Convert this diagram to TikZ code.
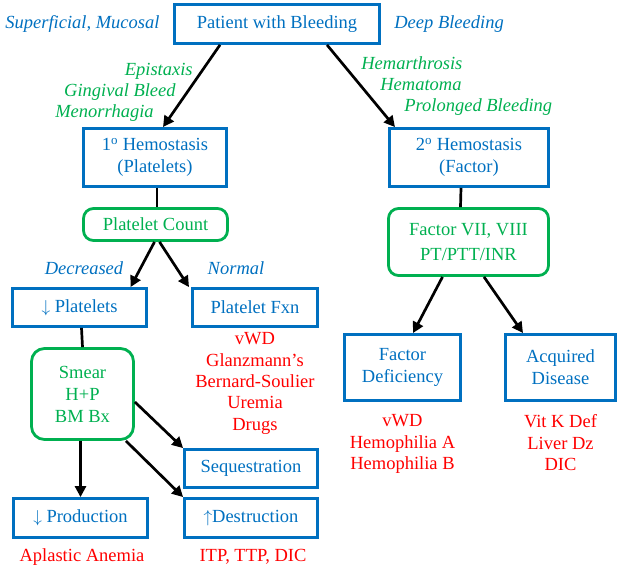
\documentclass[tikz,border=0pt]{standalone}
\usepackage{fontspec}
\setmainfont{Liberation Serif}
\usetikzlibrary{arrows.meta,positioning}

\definecolor{dxblue}{RGB}{0,112,192}
\definecolor{dxgreen}{RGB}{0,176,80}
\definecolor{dxred}{RGB}{255,0,0}

\begin{document}
\begin{tikzpicture}[
    x = 1pt, y = -1pt, % pixel coordinates
    > = {Triangle[length=11pt,width=11pt]}, % arrow head style
    font = \fontsize{18.5}{22}\selectfont,
    line width = 2.7pt
    ]

    \tikzset{
    bluebox/.style = {draw = dxblue, text = dxblue, line width = 2.8pt, align = center, inner sep = 1pt},
    greenbox/.style = {draw = dxgreen, text = dxgreen, line width = 2.8pt, rounded corners = 10pt, align = center, inner sep = 1pt},
    bluelbl/.style = {text = dxblue, inner sep = 1pt, font = \fontsize{18.5}{22}\selectfont\itshape},
    greenlbl/.style = {text = dxgreen, inner sep = 1pt, font = \fontsize{18.5}{22}\selectfont\itshape},
    redlist/.style = {text = dxred, align = center, font = \fontsize{18.5}{21.3}\selectfont}
    }

    \useasboundingbox (0,0) rectangle (622,568);

    % top
    \node[bluebox, minimum width = 205pt, minimum height = 39pt] (pat) at (277,24) {Patient with Bleeding};
    \node[bluelbl, anchor = west] (superf) at (3,24) {Superficial, Mucosal};
    \node[bluelbl, anchor = west] (deep) at (392,24) {Deep Bleeding};

    \node[bluebox, minimum width = 143pt, minimum height = 58pt] (hemo1) at (155,157.5) {1\textsuperscript{o} Hemostasis\\(Platelets)};
    \node[bluebox, minimum width = 159pt, minimum height = 58pt] (hemo2) at (469,157.5) {2\textsuperscript{o} Hemostasis\\(Factor)};

    \node[greenlbl, anchor = east] (epi) at (195,71) {Epistaxis};
    \node[greenlbl, anchor = east] (ging) at (178,92) {Gingival Bleed};
    \node[greenlbl, anchor = east] (meno) at (156,113) {Menorrhagia};
    \node[greenlbl, anchor = west] (hemar) at (359,63) {Hemarthrosis};
    \node[greenlbl, anchor = west] (hemat) at (378,85) {Hematoma};
    \node[greenlbl, anchor = west] (prolong) at (402,107) {Prolonged Bleeding};

    \draw[->] ([xshift=-57pt]pat.south) -- ([xshift=8pt]hemo1.north);
    \draw[->] ([xshift=50pt]pat.south) -- ([xshift=-74pt]hemo2.north);

    % left branch
    \node[greenbox, minimum width = 144pt, minimum height = 32pt] (plc) at (155.5,224.5) {Platelet Count};
    \draw ([xshift=2pt]hemo1.south) -- ([xshift=1.5pt]plc.north);

    \node[bluebox, minimum width = 134pt, minimum height = 38pt] (dplt) at (79.5,307.5) {$\downarrow$ Platelets};
    \node[bluebox, minimum width = 125pt, minimum height = 38pt] (pfxn) at (255,307.5) {Platelet Fxn};
    \node[bluelbl] (decr) at (84,268) {Decreased};
    \node[bluelbl] (norm) at (236,268) {Normal};
    \draw[->] ([xshift=-1pt]plc.south) -- ([xshift=51pt]dplt.north);
    \draw[->] ([xshift=4pt]plc.south) -- ([xshift=-66pt]pfxn.north);

    \node[redlist, anchor = north] (pfxnlist) at (255,328) {vWD\\Glanzmann’s\\Bernard-Soulier\\Uremia\\Drugs};

    \node[greenbox, rounded corners = 13pt, minimum width = 102pt, minimum height = 91pt] (smear) at (82.5,394) {Smear\\H+P\\BM Bx};
    \draw ([xshift=2pt]dplt.south) -- (smear.north);

    \node[bluebox, minimum width = 133pt, minimum height = 38pt] (seq) at (251,468.5) {Sequestration};
    \node[bluebox, minimum width = 134pt, minimum height = 39pt] (prod) at (80.5,518) {$\downarrow$ Production};
    \node[bluebox, minimum width = 133pt, minimum height = 39pt] (dest) at (251,518) {$\uparrow$Destruction};

    \draw[->] (smear.south -| prod.north) -- (prod.north);
    \draw[->] ([yshift=-8pt]smear.east) -- (seq.north west);
    \draw[->] ([xshift=-9pt]smear.south east) -- (dest.north west);

    \node[text = dxred] (aplast) at (82,557) {Aplastic Anemia};
    \node[text = dxred] (itp) at (253,557) {ITP, TTP, DIC};

    % right branch
    \node[greenbox, minimum width = 160pt, minimum height = 67pt] (fact) at (468.5,242) {Factor VII, VIII\\[3pt]PT/PTT/INR};
    \draw ([xshift=-8pt]hemo2.south) -- ([xshift=-8pt]fact.north);

    \node[bluebox, minimum width = 116pt, minimum height = 66pt] (fdef) at (402.5,367.5) {Factor\\Deficiency};
    \node[bluebox, minimum width = 110pt, minimum height = 66pt] (acq) at (560.5,367.5) {Acquired\\Disease};
    \draw[->] ([xshift=-26pt]fact.south) -- ([xshift=10.5pt]fdef.north);
    \draw[->] ([xshift=15.5pt]fact.south) -- ([xshift=-37.5pt]acq.north);

    \node[redlist, anchor = north] (fdeflist) at (402.5,410) {vWD\\Hemophilia A\\Hemophilia B};
    \node[redlist, anchor = north] (acqlist) at (560.5,410) {Vit K Def\\Liver Dz\\DIC};
\end{tikzpicture}
\end{document}
